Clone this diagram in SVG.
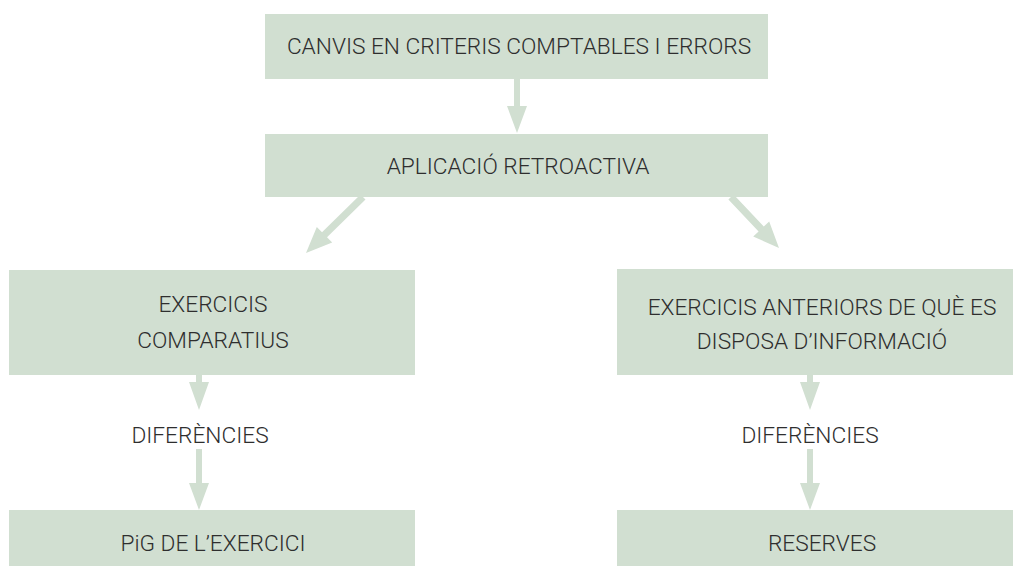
<svg xmlns="http://www.w3.org/2000/svg" width="1013" height="566" viewBox="0 0 1013 566">
<style>
.box{fill:#d1dfd1}
.arr{fill:#d1dfd1}
.t{font-family:Roboto,"Liberation Sans",sans-serif;font-weight:300;font-size:22.7px;fill:#2e2e2e;text-anchor:middle}
</style>
<rect width="1013" height="566" fill="#ffffff"/>
<g id="connectors">
<polygon class="arr" points="514,79 520,79 520,106 527,106 517,133 507,106 514,106"/>
<polygon class="arr" points="360.5,194.5 322,232.3 316.8,227 306,253 332.2,242.6 327,237.3 365.5,199.5"/>
<polygon class="arr" points="733.6,194.6 763.8,226.6 769.2,221.5 779,248 753.2,236.5 758.6,231.4 728.4,199.4"/>
<polygon class="arr" points="196,375 202,375 202,382 209,382 199,410 189,382 196,382"/>
<polygon class="arr" points="196,449 202,449 202,483 209,483 199,510 189,483 196,483"/>
<polygon class="arr" points="807,375 813,375 813,382 820,382 810,410 800,382 807,382"/>
<polygon class="arr" points="807,449 813,449 813,483 820,483 810,510 800,483 807,483"/>
</g>
<g id="n1"><rect class="box" x="265" y="14" width="503" height="65"/><text class="t" x="519" y="54">CANVIS EN CRITERIS COMPTABLES I ERRORS</text></g>
<g id="n2"><rect class="box" x="265" y="134" width="503" height="63"/><text class="t" x="518" y="174">APLICACIÓ RETROACTIVA</text></g>
<g id="n3"><rect class="box" x="9" y="270" width="406" height="105"/><text class="t" x="213" y="312">EXERCICIS</text><text class="t" x="213" y="348">COMPARATIUS</text></g>
<g id="n4"><rect class="box" x="617" y="269" width="413" height="106"/><text class="t" x="822" y="315">EXERCICIS ANTERIORS DE QUÈ ES</text><text class="t" x="822" y="349">DISPOSA D’INFORMACIÓ</text></g>
<g id="n5"><text class="t" x="200" y="443">DIFERÈNCIES</text></g>
<g id="n6"><text class="t" x="810" y="443">DIFERÈNCIES</text></g>
<g id="n7"><rect class="box" x="9" y="510" width="406" height="56"/><text class="t" x="213" y="551">PiG DE L’EXERCICI</text></g>
<g id="n8"><rect class="box" x="617" y="510" width="413" height="56"/><text class="t" x="822" y="551">RESERVES</text></g>
</svg>
